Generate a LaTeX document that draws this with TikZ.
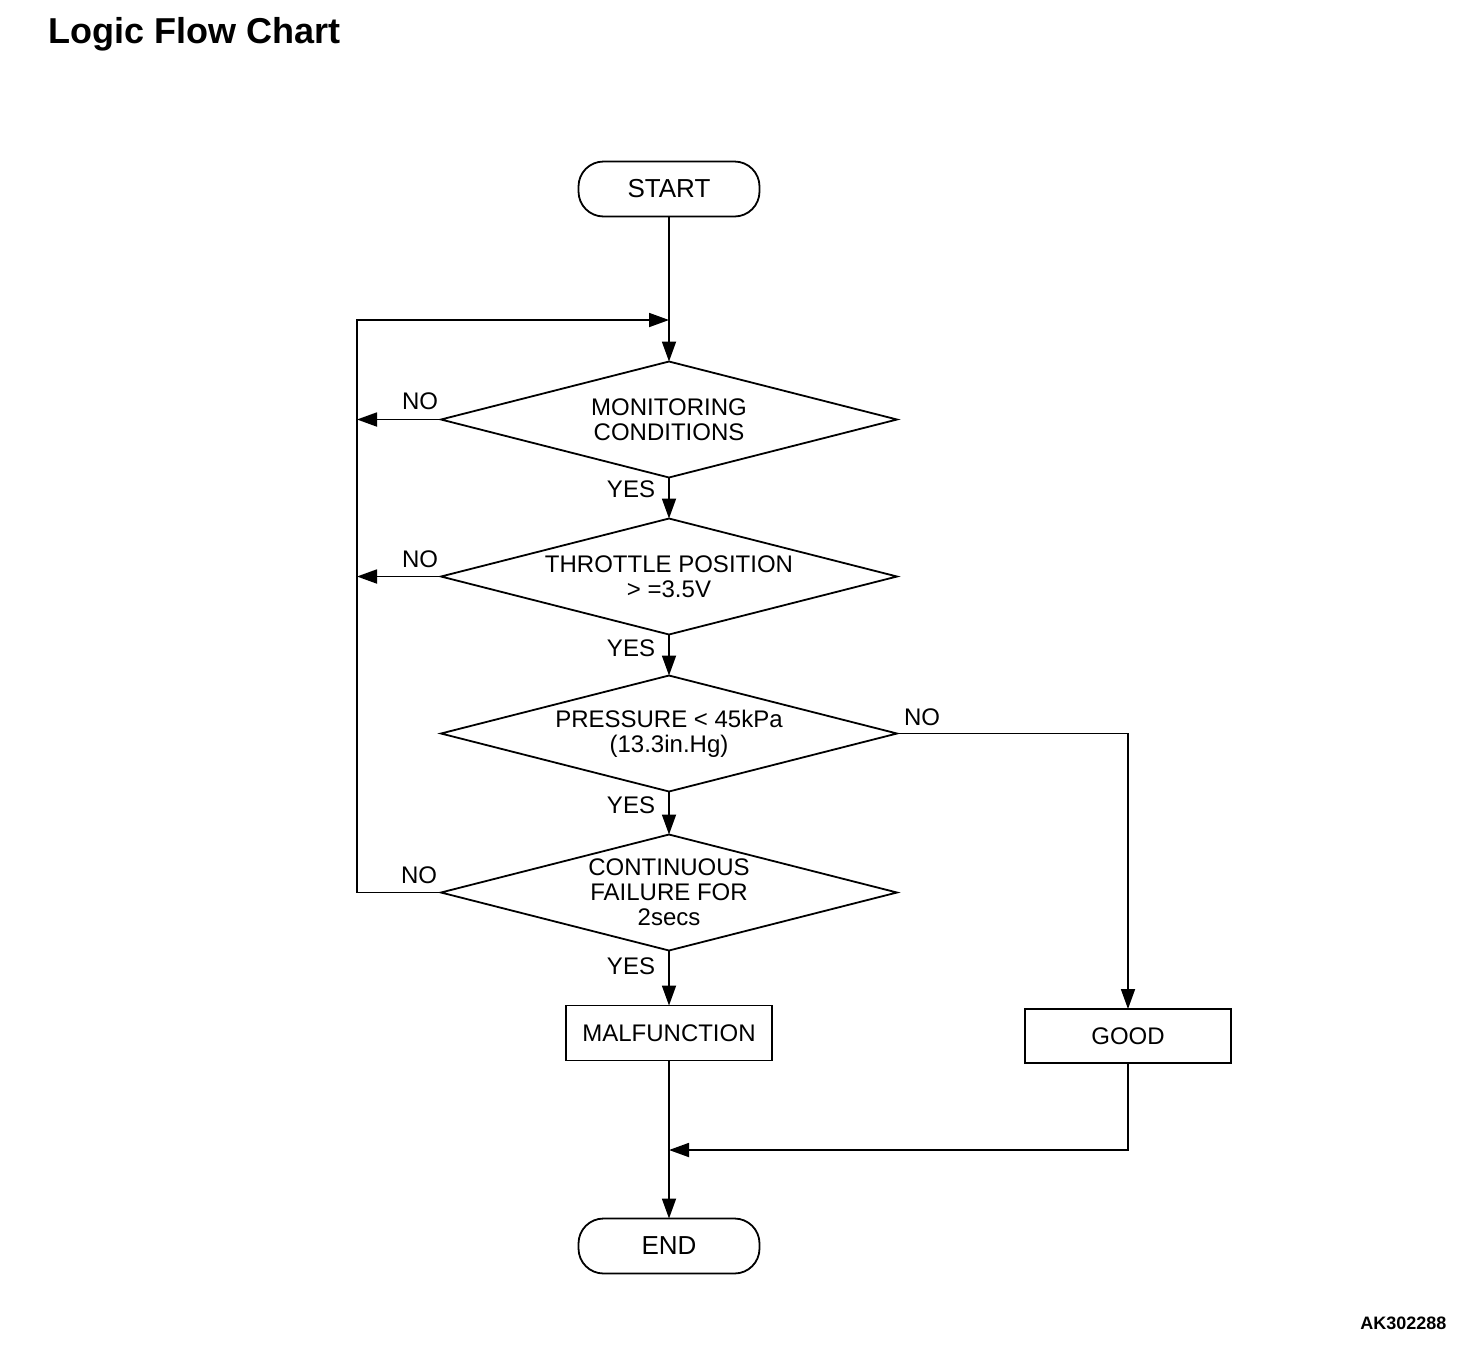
\documentclass[tikz,border=0pt]{standalone}
\usepackage{fontspec}
\setmainfont{Liberation Sans}
\usetikzlibrary{positioning,shapes.geometric,arrows.meta}

\tikzset{
  terminal/.style={draw, rectangle, rounded corners=25pt, line width=1.8pt, outer sep=0pt, minimum width=181pt, minimum height=55pt, font=\fontsize{26}{28}\selectfont},
  decision/.style={draw, diamond, aspect=3.9, inner sep=0pt, outer sep=0pt, line width=1.8pt, minimum width=456pt, minimum height=116pt, align=center},
  process/.style={draw, rectangle, line width=1.8pt, outer sep=0pt, minimum width=206pt, minimum height=55pt},
  flow/.style={line width=1.8pt, -{Triangle[length=20pt, width=14pt]}},
  plain/.style={line width=1.8pt}
}

\begin{document}
\begin{tikzpicture}[x=1pt, y=-1pt, node distance=40pt, font=\fontsize{24}{25}\selectfont]
        \useasboundingbox (0,0) rectangle (1472,1366);

        % Title and figure code
        \node (title) [anchor=base west] at (45,43) {\fontsize{36}{40}\selectfont\bfseries Logic Flow Chart};
        \node (code) [anchor=base east] at (1450,1329) {\fontsize{18}{20}\selectfont\bfseries AK302288};

        % Nodes
        \node (start) [terminal] at (669,189) {START};
        \node (d1) [decision, below=145pt of start] {MONITORING\\CONDITIONS};
        \node (d2) [decision, below=41pt of d1] {THROTTLE POSITION\\> =3.5V};
        \node (d3) [decision, below=41pt of d2] {PRESSURE < 45kPa\\(13.3in.Hg)};
        \node (d4) [decision, below=43pt of d3] {CONTINUOUS\\FAILURE FOR\\2secs};
        \node (malf) [process, below=55pt of d4] {MALFUNCTION};
        \node (finish) [terminal, below=158pt of malf] {END};
        \node (good) [process, minimum height=54pt] at (1128,1036) {GOOD};

        % Junction points
        \coordinate (loop) at (357,320);
        \coordinate (join) at (669,320);
        \coordinate (merge) at (669,1150);

        % Arrows
        \draw[flow] (start) -- (d1);
        \draw[flow] (d1) -- (d2);
        \draw[flow] (d2) -- (d3);
        \draw[flow] (d3) -- (d4);
        \draw[flow] (d4) -- (malf);
        \draw[flow] (malf) -- (finish);
        \draw[flow] (d1.west) -- (d1.west -| loop);
        \draw[flow] (d2.west) -- (d2.west -| loop);
        \draw[flow] (d4.west) -- (d4.west -| loop) -- (loop) -- (join);
        \draw[flow] (d3.east) -| (good);
        \draw[flow] (good) |- (merge);

        % Labels
        \node (no1) at (420,401) {NO};
        \node (no2) at (420,559) {NO};
        \node (no3) at (922,717) {NO};
        \node (no4) at (419,875) {NO};
        \node (yes1) at (631,489) {YES};
        \node (yes2) at (631,648) {YES};
        \node (yes3) at (631,805) {YES};
        \node (yes4) at (631,966) {YES};
    \end{tikzpicture}
\end{document}
